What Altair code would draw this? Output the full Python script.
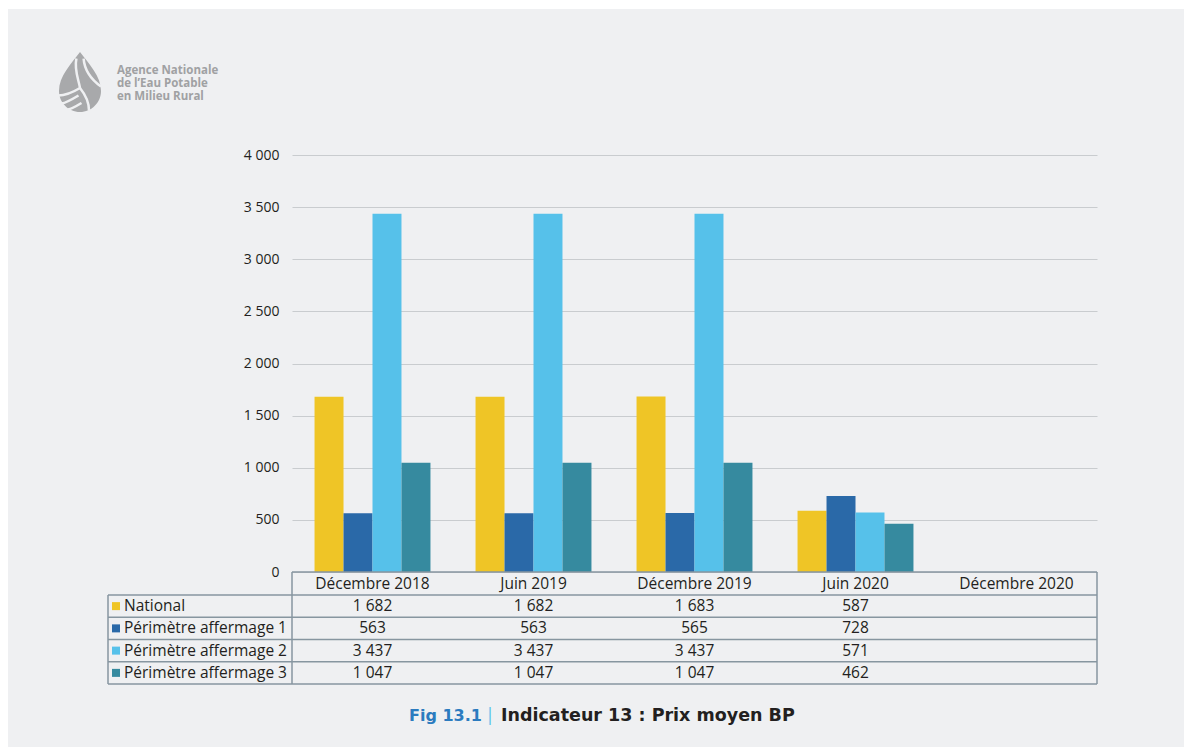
import altair as alt
import pandas as pd

# ---- data ----
categories = ["Décembre 2018", "Juin 2019", "Décembre 2019", "Juin 2020", "Décembre 2020"]
series = ["National", "Périmètre affermage 1", "Périmètre affermage 2", "Périmètre affermage 3"]
national = [1682, 1682, 1683, 587, None]
perimetre1 = [563, 563, 565, 728, None]
perimetre2 = [3437, 3437, 3437, 571, None]
perimetre3 = [1047, 1047, 1047, 462, None]
y_ticks = [0, 500, 1000, 1500, 2000, 2500, 3000, 3500, 4000]
colors = ["#efc526", "#2a69a8", "#56c1ea", "#368a9f"]
logo_lines = ["Agence Nationale", "de l\u2019Eau Potable", "en Milieu Rural"]
caption_fig = "Fig 13.1"
caption_sep = "|"
caption_text = "Indicateur 13 : Prix moyen BP"

rows = []
for s, vals in zip(series, [national, perimetre1, perimetre2, perimetre3]):
    for c, v in zip(categories, vals):
        if v is not None:
            rows.append({"cat": c, "series": s, "value": v})
df = pd.DataFrame(rows)

# ---- layout (pixels, relative to plot origin) ----
W, H = 805, 417
FONT = "Open Sans"
CAPFONT = "DejaVu Sans"
TXT = "#231f20"
BORDER = "#8796a0"
FS = 15.5
row_top, row_bottom = 440, 529
left_col = -184

x_scale = alt.Scale(domain=categories, paddingInner=0.28, paddingOuter=0.14)
row_scale = alt.Scale(domain=series, range=[row_top, row_bottom], paddingInner=0, paddingOuter=0)
color_scale = alt.Scale(domain=series, range=colors)

one = pd.DataFrame({"k": [0]})

# background strips (white margin top / left)
top_strip = alt.Chart(one).mark_rect(color="white").encode(
    x=alt.value(-292), x2=alt.value(892), y=alt.value(-155), y2=alt.value(-146))
left_strip = alt.Chart(one).mark_rect(color="white").encode(
    x=alt.value(-292), x2=alt.value(-284), y=alt.value(-155), y2=alt.value(592))

bars = alt.Chart(df).mark_bar().encode(
    x=alt.X("cat:N", sort=categories, scale=x_scale, axis=None),
    xOffset=alt.XOffset("series:N", sort=series,
                        scale=alt.Scale(domain=series, paddingInner=0, paddingOuter=0)),
    y=alt.Y("value:Q", scale=alt.Scale(domain=[0, 4000], nice=False),
            axis=alt.Axis(values=y_ticks, grid=True, gridColor="#c9cccf", gridWidth=1,
                          domain=False, ticks=False, labelPadding=13, labelFontSize=14,
                          labelColor=TXT, labelFont=FONT, title=None,
                          labelExpr="replace(format(datum.value, ','), ',', ' ')")),
    color=alt.Color("series:N", scale=color_scale, legend=None),
)

# table header (category labels)
header = alt.Chart(pd.DataFrame({"cat": categories})).mark_text(
    fontSize=FS, font=FONT, color=TXT).encode(
    x=alt.X("cat:N", sort=categories, scale=x_scale, axis=None),
    y=alt.value(428.5),
    text="cat:N",
)

# table values
values = alt.Chart(df).transform_calculate(
    label="replace(format(datum.value, ','), ',', ' ')"
).mark_text(fontSize=FS, font=FONT, color=TXT).encode(
    x=alt.X("cat:N", sort=categories, scale=x_scale, axis=None),
    y=alt.Y("series:N", sort=series, scale=row_scale, axis=None),
    text="label:N",
)

# row labels + legend squares
series_df = pd.DataFrame({"series": series})
row_labels = alt.Chart(series_df).mark_text(
    fontSize=FS, font=FONT, color=TXT, align="left").encode(
    x=alt.value(-168),
    y=alt.Y("series:N", sort=series, scale=row_scale, axis=None),
    text="series:N",
)
squares = alt.Chart(series_df).mark_square(size=64, opacity=1).encode(
    x=alt.value(-176),
    y=alt.Y("series:N", sort=series, scale=row_scale, axis=None),
    color=alt.Color("series:N", scale=color_scale, legend=None),
)

# table borders
hlines = alt.Chart(pd.DataFrame({"b": [1, 2, 3, 4, 5]})).mark_rule(
    color=BORDER, strokeWidth=1.5).encode(
    x=alt.value(left_col), x2=alt.value(W),
    y=alt.Y("b:Q", scale=alt.Scale(domain=[1, 5], range=[row_top, row_bottom]), axis=None),
)
top_line = alt.Chart(one).mark_rule(color=BORDER, strokeWidth=1.5).encode(
    x=alt.value(0), x2=alt.value(W), y=alt.value(H))
vl_left = alt.Chart(one).mark_rule(color=BORDER, strokeWidth=1.5).encode(
    x=alt.value(left_col), y=alt.value(row_top), y2=alt.value(row_bottom))
vl_mid = alt.Chart(one).mark_rule(color=BORDER, strokeWidth=1.5).encode(
    x=alt.value(0), y=alt.value(H), y2=alt.value(row_bottom))
vl_right = alt.Chart(one).mark_rule(color=BORDER, strokeWidth=1.5).encode(
    x=alt.value(W), y=alt.value(H), y2=alt.value(row_bottom))

# logo
drop_path = ("M0,-1 C0.3,-0.6 0.7,-0.2 0.7,0.3 A0.7,0.7 0 0 1 -0.7,0.3 "
             "C-0.7,-0.2 -0.3,-0.6 0,-1 Z")
stripe_path = ("M-0.12,-0.78 C-0.2,-0.4 -0.05,-0.1 0,0.2 "
               "M0.12,-0.78 C0.15,-0.4 0.35,-0.1 0.7,0.15 "
               "M0,0.2 C-0.25,0.35 -0.5,0.45 -0.72,0.45 "
               "M0,0.2 C0.2,0.45 0.3,0.7 0.3,0.95 "
               "M-0.05,0.45 C-0.3,0.6 -0.5,0.7 -0.62,0.72 "
               "M0.05,0.7 C-0.15,0.82 -0.3,0.9 -0.4,0.92")
logo_drop = alt.Chart(one).mark_point(
    shape=drop_path, filled=True, color="#a8a9ab", size=3600, opacity=1).encode(
    x=alt.value(-212), y=alt.value(-73))
logo_stripes = alt.Chart(one).mark_point(
    shape=stripe_path, filled=False, color="#eff0f2", size=3600, strokeWidth=2.5, opacity=1).encode(
    x=alt.value(-212), y=alt.value(-73))
logo_text = alt.Chart(pd.DataFrame({"t": logo_lines, "i": [0, 1, 2]})).mark_text(
    fontSize=11.5, font=FONT, fontWeight="bold", color="#a0a1a3", align="left").encode(
    x=alt.value(-175),
    y=alt.Y("i:Q", scale=alt.Scale(domain=[0, 2], range=[-84, -58]), axis=None),
    text="t:N",
)

# caption
cap1 = alt.Chart(pd.DataFrame({"t": [caption_fig]})).mark_text(
    fontSize=16, font=CAPFONT, fontWeight="bold", color="#2b7bbf", align="left").encode(
    x=alt.value(117), y=alt.value(561), text="t:N")
cap2 = alt.Chart(pd.DataFrame({"t": [caption_sep]})).mark_text(
    fontSize=18, font=FONT, color="#56c1ea", align="center").encode(
    x=alt.value(198), y=alt.value(561), text="t:N")
cap3 = alt.Chart(pd.DataFrame({"t": [caption_text]})).mark_text(
    fontSize=17.5, font=CAPFONT, fontWeight="bold", color=TXT, align="left").encode(
    x=alt.value(209), y=alt.value(561), text="t:N")

chart = alt.layer(
    top_strip, left_strip, bars, header, values, row_labels, squares,
    hlines, top_line, vl_left, vl_mid, vl_right,
    logo_drop, logo_stripes, logo_text, cap1, cap2, cap3,
).resolve_scale(x="independent", y="independent").properties(
    width=W, height=H,
    padding={"left": 292, "top": 155, "right": 87, "bottom": 175},
    autosize=alt.AutoSizeParams(type="none"),
    background="#eff0f2",
).configure(font=FONT).configure_view(strokeWidth=0, strokeOpacity=0)

chart.save("out.html", embed_options={"renderer": "svg", "actions": False})
